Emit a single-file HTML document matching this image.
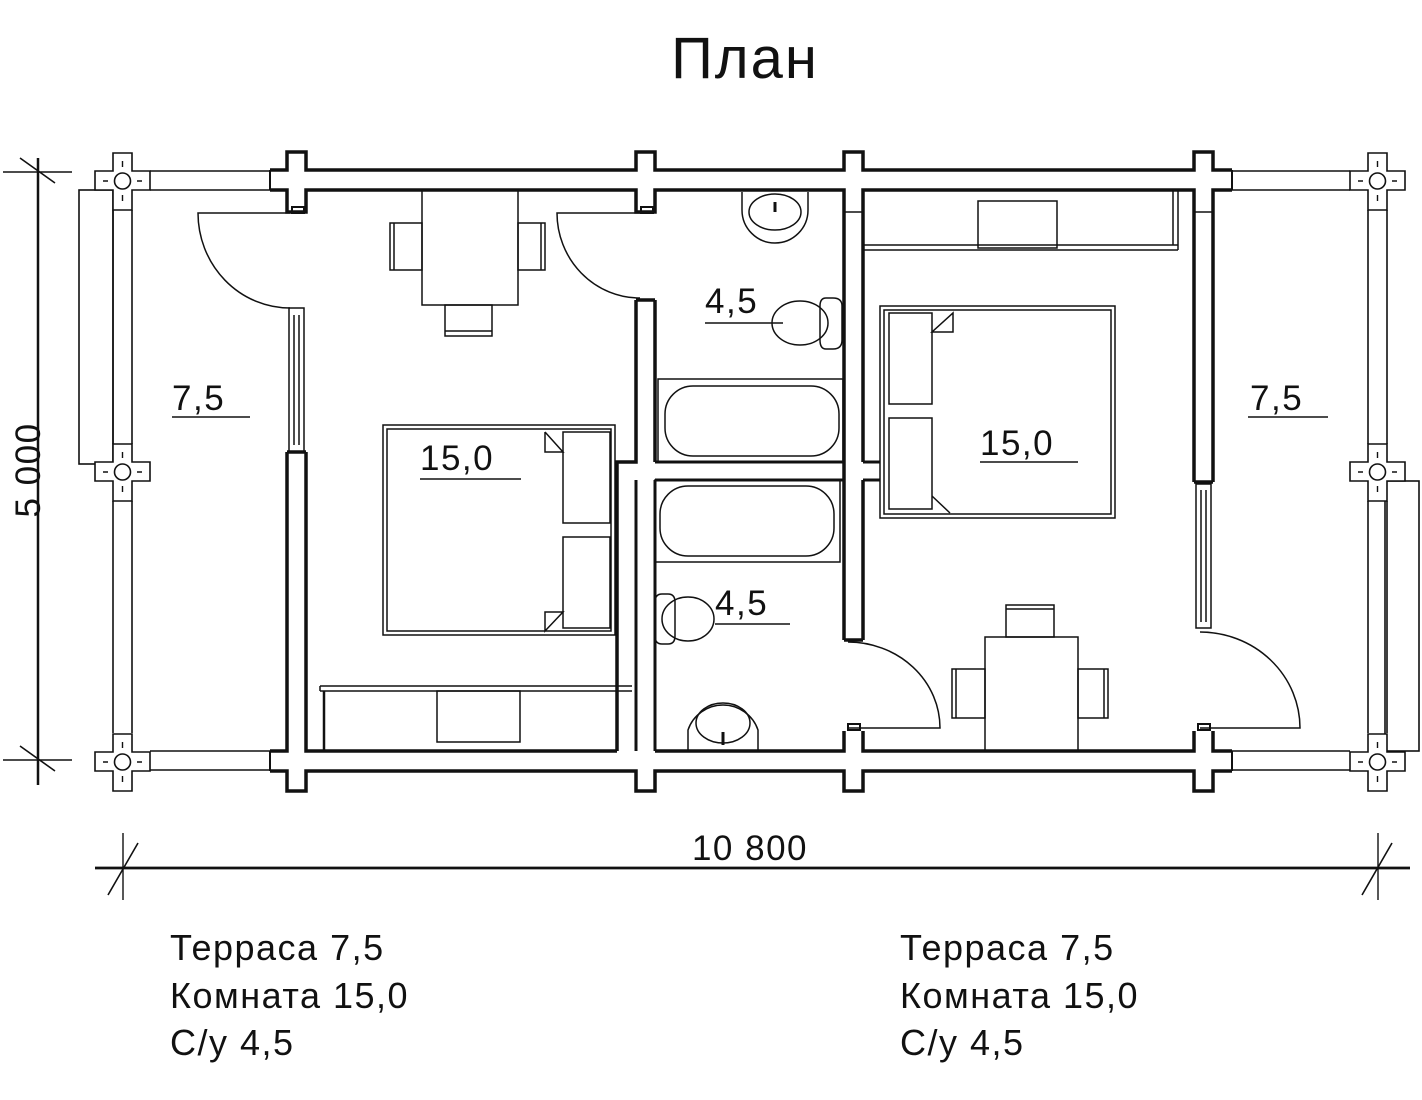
<!DOCTYPE html>
<html><head><meta charset="utf-8"><style>
html,body{margin:0;padding:0;background:#fff}
svg{display:block}
text{font-family:"Liberation Sans",sans-serif;fill:#111}
</style></head><body>
<svg width="1422" height="1100" viewBox="0 0 1422 1100" xmlns="http://www.w3.org/2000/svg">
<rect width="1422" height="1100" fill="#fff"/>
<text x="745" y="78" font-size="58" letter-spacing="2" text-anchor="middle">План</text>

<g fill="none" stroke="#111" stroke-width="1.6">
 <!-- left terrace -->
 <path d="M150 171H270M150 190H270M150 751H270M150 770H270M270 171V190M270 751V770"/>
 <rect x="79" y="190" width="34" height="274" fill="#fff"/>
 <path d="M113 210V444M132 210V444M113 501V733M132 501V733"/>
 <!-- right terrace -->
 <path d="M1232 171H1350M1232 190H1350M1232 751H1350M1232 770H1350"/>
 <rect x="1385" y="481" width="34" height="270" fill="#fff"/>
 <path d="M1368 210V444M1387 210V444M1368 501V733M1387 501V733"/>
</g>
<!-- terrace posts -->
<g fill="#fff" stroke="#111" stroke-width="1.6">
 <g id="tp">
  <path d="M113 153H132V171H150V190H132V210H113V190H95V171H113Z"/>
  <circle cx="122.5" cy="181" r="8"/>
  <path d="M108 181h-5M137 181h5M122.5 167v-6M122.5 195v6" stroke-width="1.4"/>
 </g>
 <use href="#tp" y="291"/>
 <use href="#tp" y="581"/>
 <use href="#tp" x="1255"/>
 <use href="#tp" x="1255" y="291"/>
 <use href="#tp" x="1255" y="581"/>
</g>

<!-- main walls -->
<g fill="none" stroke="#111" stroke-width="3.5">
 <path d="M270 170H287V152H306V170H636V152H655V170H844V152H863V170H1194V152H1213V170H1232"/>
 <path d="M270 190H287V212H306V190H636V212H655V190H844V212M863 212V190H1194V212M1213 212V190H1232"/>
 <path d="M270 771H287V791H306V771H636V791H655V771H844V791H863V771H1194V791H1213V771H1232"/>
 <path d="M270 751H287V731M306 731V751H617M655 751H844V731M863 731V751H1194V731M1213 731V751H1232"/>
 <path d="M1232 170V190M1232 751V771M270 170V190M270 751V771" stroke-width="2"/>
 <path d="M287 212H306M636 212H655M844 212H863M1194 212H1213" stroke-width="1.5"/>
 <!-- left exterior wall -->
 <path d="M287 452V731M306 452V731M287 452H306"/>
 <!-- room1 / bath wall -->
 <path d="M636 300V462H617V751M655 300V462M636 300H655"/>
 <path d="M655 480V751M636 480V751" stroke-width="3"/>
 <!-- bath partition -->
 <path d="M655 462H844M655 480H844M863 462H880M863 480H880" stroke-width="3"/>
 <!-- bath / room2 wall -->
 <path d="M844 212V640M863 212V462M863 480V640M844 640H863"/>
 <!-- room2 right wall -->
 <path d="M1194 212V482M1213 212V482M1194 482H1213"/>
</g>
<g fill="none" stroke="#111" stroke-width="1.5">
 <!-- windows -->
 <rect x="289" y="308" width="15" height="144"/>
 <path d="M294 315V445M299 315V445"/>
 <rect x="1196" y="484" width="15" height="144"/>
 <path d="M1201 490V622M1206 490V622"/>
 <rect x="292" y="207" width="12" height="6" stroke-width="2"/>
 <rect x="641" y="207" width="12" height="6" stroke-width="2"/>
 <rect x="848" y="724" width="12" height="6" stroke-width="2"/>
 <rect x="1198" y="724" width="12" height="6" stroke-width="2"/>
 <!-- doors -->
 <path d="M290 213H198A92 95 0 0 0 290 308"/>
 <path d="M640 213H557A83 85 0 0 0 640 298"/>
 <path d="M848 642A92 86 0 0 1 940 728H848"/>
 <path d="M1200 632A100 96 0 0 1 1300 728H1200"/>

 <!-- room1 table -->
 <rect x="422" y="190" width="96" height="115"/>
 <rect x="390" y="223" width="32" height="47"/><path d="M394 223V270"/>
 <rect x="518" y="223" width="27" height="47"/><path d="M541 223V270"/>
 <rect x="445" y="305" width="47" height="31"/><path d="M445 331H492"/>
 <!-- room2 table -->
 <rect x="985" y="637" width="93" height="114"/>
 <rect x="1006" y="605" width="48" height="32"/><path d="M1006 609H1054"/>
 <rect x="952" y="669" width="33" height="49"/><path d="M956 669V718"/>
 <rect x="1078" y="669" width="30" height="49"/><path d="M1104 669V718"/>

 <!-- room1 bed -->
 <rect x="383" y="425" width="232" height="210"/>
 <rect x="387" y="429" width="224" height="202"/>
 <rect x="563" y="432" width="47" height="91"/>
 <rect x="563" y="537" width="47" height="91"/>
 <path d="M545 432V452H563L545 432M545 612V631L563 612Z"/>
 <!-- room2 bed -->
 <rect x="880" y="306" width="235" height="212"/>
 <rect x="884" y="310" width="227" height="204"/>
 <rect x="889" y="313" width="43" height="91"/>
 <rect x="889" y="418" width="43" height="91"/>
 <path d="M953 313V332H932ZM932 496L950 513"/>

 <!-- room1 wardrobe -->
 <path d="M320 686H632M320 691H632M320 686V691"/>
 <path d="M324 691V751" stroke-width="2.5"/>
 <rect x="437" y="691" width="83" height="51"/>
 <!-- room2 wardrobe -->
 <path d="M863 245H1178M863 250H1178M1178 190V250M1173 190V245"/>
 <rect x="978" y="201" width="79" height="47"/>

 <!-- bath1 -->
 <path d="M742 192V210A33 33 0 0 0 808 210V192"/>
 <ellipse cx="775" cy="212" rx="26" ry="18"/>
 <path d="M775 202V212" stroke-width="3"/>
 <path d="M833 298Q842 298 842 306V340Q842 349 833 349H826Q820 349 820 340V306Q820 298 826 298Z"/>
 <ellipse cx="800" cy="323" rx="28" ry="22"/>
 <path d="M705 323H783"/>
 <rect x="658" y="379" width="185" height="83"/>
 <rect x="665" y="386" width="174" height="70" rx="28"/>
 <!-- bath2 -->
 <rect x="655" y="480" width="185" height="82"/>
 <rect x="660" y="486" width="174" height="70" rx="28"/>
 <path d="M662 594Q655 594 655 602V636Q655 644 662 644H668Q675 644 675 636V602Q675 594 668 594Z"/>
 <ellipse cx="688" cy="619" rx="26" ry="22"/>
 <path d="M688 751V730A37 37 0 0 1 758 730V751"/>
 <ellipse cx="723" cy="723" rx="27" ry="20"/>
 <path d="M723 732V745" stroke-width="3"/>

 <!-- labels underlines -->
 <path d="M172 417H250M420 479H521M980 462H1078M1248 417H1328M715 624H790"/>
</g>

<g font-size="35" letter-spacing="1.5">
 <text x="172" y="410">7,5</text>
 <text x="420" y="470">15,0</text>
 <text x="705" y="313">4,5</text>
 <text x="980" y="455">15,0</text>
 <text x="1250" y="410">7,5</text>
 <text x="715" y="615">4,5</text>
</g>

<!-- dimensions -->
<g stroke="#111" fill="none">
 <path d="M38 158V785" stroke-width="2.5"/>
 <path d="M3 172H72M3 760H72" stroke-width="1.4"/>
 <path d="M20 158L55 183M20 746L55 771" stroke-width="1.6"/>
 <path d="M95 868H1410" stroke-width="2.8"/>
 <path d="M123 833V900M1378 833V900" stroke-width="1.4"/>
 <path d="M108 895L138 843M1362 895L1392 843" stroke-width="1.6"/>
</g>
<text transform="translate(40 470) rotate(-90)" font-size="35" letter-spacing="1.5" text-anchor="middle">5 000</text>
<text x="750" y="860" font-size="35" letter-spacing="1.5" text-anchor="middle">10 800</text>

<g font-size="36" letter-spacing="1.5">
 <text x="170" y="960">Терраса 7,5</text>
 <text x="170" y="1008">Комната 15,0</text>
 <text x="170" y="1055">С/у 4,5</text>
 <text x="900" y="960">Терраса 7,5</text>
 <text x="900" y="1008">Комната 15,0</text>
 <text x="900" y="1055">С/у 4,5</text>
</g>
</svg>
</body></html>
